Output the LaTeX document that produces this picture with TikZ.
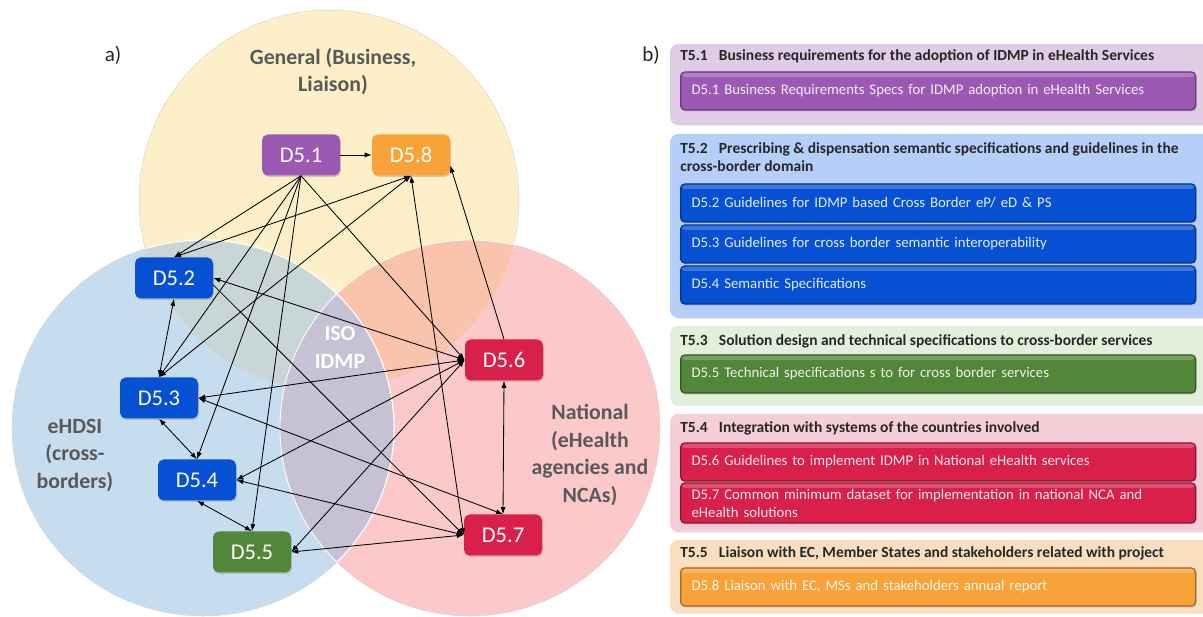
\documentclass[tikz,border=0pt]{standalone}
\usepackage{fontspec}
\setmainfont{Carlito}
\usetikzlibrary{arrows.meta,shadows}

% Couleurs des livrables
\definecolor{violetL}{RGB}{156,89,180}
\definecolor{orangeL}{RGB}{248,162,58}
\definecolor{bleuL}{RGB}{6,80,212}
\definecolor{vertL}{RGB}{82,134,56}
\definecolor{rougeL}{RGB}{216,32,75}
% Zones du diagramme
\definecolor{zoneJ}{RGB}{253,240,200}
\definecolor{zoneB}{RGB}{197,221,239}
\definecolor{zoneR}{RGB}{252,201,203}
\definecolor{zoneJB}{RGB}{200,214,214}
\definecolor{zoneJR}{RGB}{250,196,172}
\definecolor{zoneBR}{RGB}{198,193,211}
% Fonds des taches
\definecolor{fondT1}{RGB}{225,204,230}
\definecolor{fondT2}{RGB}{182,206,250}
\definecolor{fondT3}{RGB}{226,239,218}
\definecolor{fondT4}{RGB}{246,206,216}
\definecolor{fondT5}{RGB}{250,222,192}
\definecolor{gristexte}{RGB}{89,89,89}

\tikzset{
  livrable/.style={rounded corners=4pt, minimum width=1.95cm, minimum height=1.025cm,
    inner sep=0pt, text=white, font=\fontsize{16}{18}\selectfont,
    drop shadow={shadow xshift=0.6pt, shadow yshift=-1pt, opacity=0.35}},
  lien/.style={line width=0.6pt},
  zone/.style={font=\bfseries\fontsize{15.5}{19.6}\selectfont, text=gristexte, align=center},
  tache/.style={rounded corners=6pt,
    drop shadow={shadow xshift=0.5pt, shadow yshift=-0.8pt, opacity=0.15}},
  titre/.style={anchor=west, inner sep=0pt, align=left,
    font=\bfseries\fontsize{11}{12.8}\selectfont, text=black!85},
  barre/.style={anchor=west, rounded corners=3pt, line width=0.9pt,
    fill=#1, draw=#1!65!black, text=white!90!#1,
    minimum height=0.95cm, text width=12.325cm, inner xsep=0.275cm, inner ysep=0pt,
    align=left, font=\fontsize{10.5}{12.8}\selectfont,
    drop shadow={shadow xshift=0.5pt, shadow yshift=-1pt, opacity=0.3},
    path picture={\fill[white, opacity=0.22] (path picture bounding box.north west)
      rectangle ([yshift=-3.5pt]path picture bounding box.north east);}},
}

\begin{document}
\begin{tikzpicture}[>={Latex[length=5pt,width=3.6pt]}]
    \useasboundingbox (0,0) rectangle (30.075,15.425);
    \fill[white] (0,0) rectangle (30.075,15.425);

    % -- Panneau gauche : diagramme de Venn --
    \begin{scope}[local bounding box=A]
        \coordinate (cJ) at (8.225,10.425);
        \coordinate (cB) at (5.075,4.725);
        \coordinate (cR) at (11.75,4.725);

        % Cercles
        \draw[fill=zoneJ, draw=black!15, line width=0.4pt] (cJ) circle (4.75);
        \draw[fill=zoneB, draw=black!15, line width=0.4pt] (cB) ellipse (4.775 and 4.7);
        \draw[fill=zoneR, draw=black!15, line width=0.4pt] (cR) ellipse (4.75 and 4.7);

        % Intersections
        \begin{scope}
            \clip (cJ) circle (4.75);
            \fill[zoneJB] (cB) ellipse (4.775 and 4.7);
            \fill[zoneJR] (cR) ellipse (4.75 and 4.7);
        \end{scope}
        \begin{scope}
            \clip (cB) ellipse (4.775 and 4.7);
            \fill[zoneBR] (cR) ellipse (4.75 and 4.7);
        \end{scope}

        % Bords blancs a l'interieur des autres cercles
        \begin{scope}
            \clip (cJ) circle (4.75) (cR) ellipse (4.75 and 4.7);
            \draw[white, line width=0.8pt] (cB) ellipse (4.775 and 4.7);
        \end{scope}
        \begin{scope}
            \clip (cJ) circle (4.75) (cB) ellipse (4.775 and 4.7);
            \draw[white, line width=0.6pt] (cR) ellipse (4.75 and 4.7);
        \end{scope}

        % Titres des zones
        \node[font=\fontsize{15}{18}\selectfont, text=black!85] (la) at (2.825,14.05) {a)};
        \node[zone] (general) at (8.325,13.64) {General (Business,\\Liaison)};
        \node[zone] (ehdsi) at (1.875,4.04) {eHDSI\\(cross-\\borders)};
        \node[zone] (national) at (14.75,4.05) {National\\(eHealth\\agencies and\\NCAs)};
        \node[zone, text=white] (iso) at (8.5,6.74) {ISO\\IDMP};

        % Livrables
        \node[livrable, fill=violetL] (d51) at (7.525,11.55) {D5.1};
        \node[livrable, fill=orangeL] (d58) at (10.275,11.55) {D5.8};
        \node[livrable, fill=bleuL] (d52) at (4.35,8.475) {D5.2};
        \node[livrable, fill=bleuL] (d53) at (3.975,5.475) {D5.3};
        \node[livrable, fill=bleuL] (d54) at (4.925,3.425) {D5.4};
        \node[livrable, fill=vertL] (d55) at (6.3,1.625) {D5.5};
        \node[livrable, fill=rougeL] (d56) at (12.6,6.425) {D5.6};
        \node[livrable, fill=rougeL] (d57) at (12.575,2.05) {D5.7};

        % D5.1 vers les autres livrables
        \draw[lien, ->] (d51) -- (d58);
        \foreach \cible/\ancre in {d52/north, d53/north, d54/north, d55/north, d56/west}
            \draw[lien, ->] (d51.south) -- (\cible.\ancre);

        % Liens avec D5.8
        \draw[lien, ->] (d56.north) -- (d58.-15);
        \foreach \src in {d52.north, d53.north, d57.west}
            \draw[lien, <->] (\src) -- (d58.south);

        % Liens bidirectionnels
        \foreach \a/\b in {d52.south/d53.north, d53.south/d54.north, d54.south/d55.north,
                           d52.east/d56.west, d53.east/d56.west, d54.east/d56.west, d55.east/d56.west,
                           d53.east/d57.north, d54.east/d57.west, d55.east/d57.west, d56.south/d57.north}
            \draw[lien, <->] (\a) -- (\b);
        \draw[lien, ->] (d52.-10) -- (d57.west);
    \end{scope}

    % -- Panneau droit : taches et livrables --
    \begin{scope}[local bounding box=B]
        \node[font=\fontsize{15}{18}\selectfont, text=black!85] (lb) at (16.275,14.05) {b)};

        % Fonds
        \fill[fondT1, tache] (16.75,12.3) rectangle (30.5,14.325);
        \fill[fondT2, tache] (16.75,7.475) rectangle (30.5,12.075);
        \fill[fondT3, tache] (16.75,5.3) rectangle (30.5,7.275);
        \fill[fondT4, tache] (16.75,2.125) rectangle (30.5,5.075);
        \fill[fondT5, tache] (16.75,0.1) rectangle (30.5,1.925);

        % T5.1
        \node[titre] (t51) at (17.0,14.025) {T5.1\hspace{8pt}Business requirements for the adoption of IDMP in eHealth Services};
        \node[barre=violetL] (b51) at (17.0,13.15) {D5.1 Business Requirements Specs for IDMP adoption in eHealth Services};

        % T5.2
        \node[titre] (t52) at (17.0,11.5) {T5.2\hspace{8pt}Prescribing \& dispensation semantic specifications and guidelines in the\\cross-border domain};
        \node[barre=bleuL] (b52) at (17.0,10.35) {D5.2 Guidelines for IDMP based Cross Border eP/ eD \& PS};
        \node[barre=bleuL] (b53) at (17.0,9.325) {D5.3 Guidelines for cross border semantic interoperability};
        \node[barre=bleuL] (b54) at (17.0,8.3) {D5.4 Semantic Specifications};

        % T5.3
        \node[titre] (t53) at (17.0,6.9) {T5.3\hspace{8pt}Solution design and technical specifications to cross-border services};
        \node[barre=vertL] (b55) at (17.0,6.075) {D5.5 Technical specifications s to for cross border services};

        % T5.4
        \node[titre] (t54) at (17.0,4.725) {T5.4\hspace{8pt}Integration with systems of the countries involved};
        \node[barre=rougeL] (b56) at (17.0,3.875) {D5.6 Guidelines to implement IDMP in National eHealth services};
        \node[barre=rougeL, minimum height=1.0cm] (b57) at (17.0,2.85) {D5.7 Common minimum dataset for implementation in national NCA and\\eHealth solutions};

        % T5.5
        \node[titre] (t55) at (17.0,1.6) {T5.5\hspace{8pt}Liaison with EC, Member States and stakeholders related with project};
        \node[barre=orangeL] (b58) at (17.0,0.75) {D5.8 Liaison with EC, MSs and stakeholders annual report};
    \end{scope}
\end{tikzpicture}
\end{document}
